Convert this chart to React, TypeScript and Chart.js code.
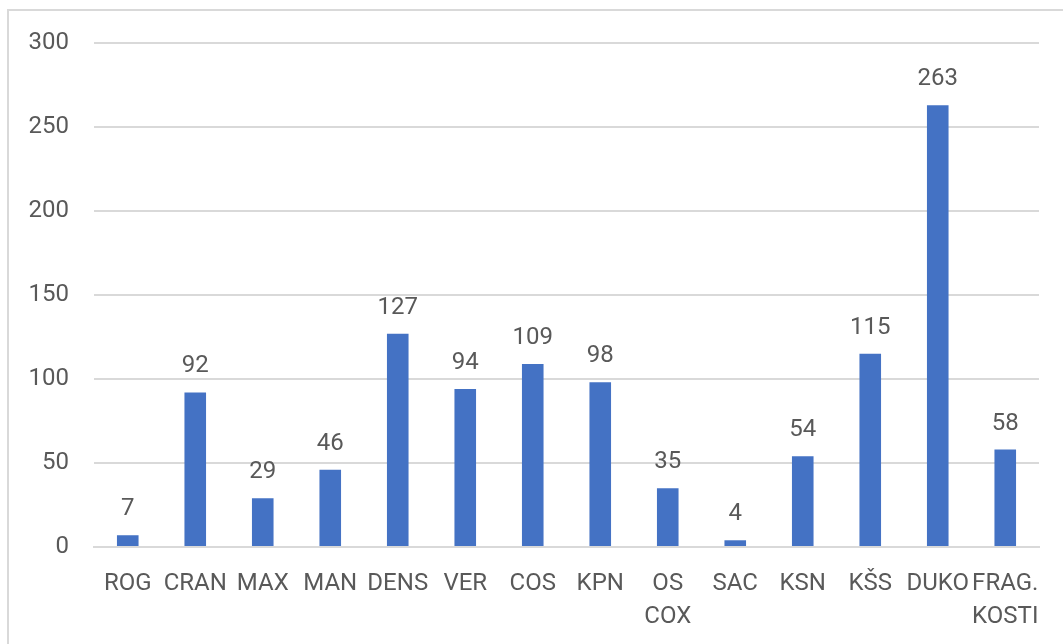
import React, { useEffect, useRef } from "react";
import { Chart, registerables } from "chart.js";

Chart.register(...registerables);

const categories: (string | string[])[] = [
  "ROG", "CRAN", "MAX", "MAN", "DENS", "VER", "COS", "KPN",
  ["OS", "COX"], "SAC", "KSN", "KŠS", "DUKO", ["FRAG.", "KOSTI"],
];
const values: number[] = [7, 92, 29, 46, 127, 94, 109, 98, 35, 4, 54, 115, 263, 58];
const yMin = 0;
const yMax = 300;
const yStep = 50;

const FONT = "Roboto, 'Liberation Sans', sans-serif";
const TEXT = "#595959";

const valueLabels = {
  id: "valueLabels",
  afterDatasetsDraw(chart: any) {
    const ctx = chart.ctx;
    const meta = chart.getDatasetMeta(0);
    ctx.save();
    ctx.font = `24px ${FONT}`;
    ctx.fillStyle = TEXT;
    ctx.textAlign = "center";
    ctx.textBaseline = "alphabetic";
    meta.data.forEach((bar: any, i: number) => {
      ctx.fillText(String(values[i]), bar.x, bar.y - 20);
    });
    ctx.restore();
  },
};

export default function App() {
  const ref = useRef<HTMLCanvasElement | null>(null);
  useEffect(() => {
    if (!ref.current) return;
    const chart = new Chart(ref.current, {
      type: "bar",
      data: {
        labels: categories,
        datasets: [
          {
            data: values,
            backgroundColor: "#4472C4",
            borderWidth: 0,
            categoryPercentage: 1,
            barPercentage: 0.32,
          },
        ],
      },
      options: {
        animation: false,
        responsive: false,
        maintainAspectRatio: false,
        layout: { padding: { top: 43, right: 24, left: 0, bottom: 0 } },
        plugins: { legend: { display: false }, tooltip: { enabled: false } },
        scales: {
          x: {
            grid: { display: false, drawTicks: false },
            border: { display: true, color: "#d9d9d9", width: 2 },
            ticks: {
              color: TEXT,
              font: { family: FONT, size: 24, lineHeight: 1.35 },
              padding: 21,
              maxRotation: 0,
              minRotation: 0,
              autoSkip: false,
            },
            afterFit: (s: any) => {
              s.height = 97;
            },
          },
          y: {
            min: yMin,
            max: yMax,
            grid: { color: "#d9d9d9", lineWidth: 2, drawTicks: false },
            border: { display: false },
            ticks: {
              stepSize: yStep,
              color: TEXT,
              font: { family: FONT, size: 24 },
              padding: 25,
            },
            afterFit: (s: any) => {
              s.width = 94;
            },
          },
        },
      },
      plugins: [valueLabels],
    });
    return () => chart.destroy();
  }, []);
  return (
    <div
      style={{
        position: "fixed",
        left: 0,
        top: 0,
        width: 1063,
        height: 644,
        overflow: "hidden",
        background: "#fff",
      }}
    >
      <div
        style={{
          position: "absolute",
          left: 7,
          top: 9,
          width: 1200,
          height: 800,
          border: "2px solid #d9d9d9",
          boxSizing: "border-box",
        }}
      />
      <canvas
        ref={ref}
        width={1063}
        height={644}
        style={{ position: "absolute", left: 0, top: 0, width: 1063, height: 644 }}
      />
    </div>
  );
}
